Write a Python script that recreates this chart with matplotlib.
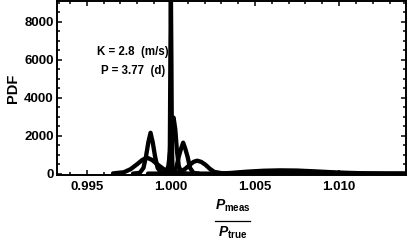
import numpy as np
import matplotlib
matplotlib.use('Agg')
import matplotlib.pyplot as plt
from matplotlib.ticker import MultipleLocator
from matplotlib.lines import Line2D

plt.rcParams['font.family'] = ['Liberation Sans', 'DejaVu Sans']
plt.rcParams['font.weight'] = 'bold'
plt.rcParams['mathtext.fontset'] = 'custom'
plt.rcParams['mathtext.rm'] = 'Liberation Sans:bold'
plt.rcParams['mathtext.it'] = 'Liberation Sans:italic:bold'
plt.rcParams['mathtext.bf'] = 'Liberation Sans:bold'

# PDF curves (x = P_meas / P_true, y = PDF)
spike_x = [0.99864, 0.99980, 0.99990, 0.99994, 0.99997, 1.00000, 1.00003, 1.00006, 1.00010, 1.00020, 1.01450]
spike_y = [0, 0, 100, 1500, 6000, 9600, 6000, 1500, 100, 0, 0]

narrow_r_x = [0.99940, 0.99970, 0.99985, 0.99996, 1.00006, 1.00016, 1.00026, 1.00036, 1.00047, 1.00062, 1.00090]
narrow_r_y = [0, 30, 400, 1200, 2350, 2950, 2350, 1200, 400, 30, 0]

narrow_l_x = [0.99775, 0.99815, 0.99837, 0.99852, 0.99866, 0.99879, 0.99892, 0.99906, 0.99921, 0.99943, 0.99975]
narrow_l_y = [0, 40, 300, 900, 1650, 2150, 1650, 900, 300, 40, 0]

broad_l_x = [0.99656, 0.99720, 0.99760, 0.99800, 0.99830, 0.99858, 0.99888, 0.99918, 0.99958, 1.00000, 1.00060]
broad_l_y = [10, 70, 230, 500, 720, 840, 720, 500, 230, 70, 10]

mid_x = [0.99985, 1.00012, 1.00032, 1.00047, 1.00060, 1.00073, 1.00086, 1.00099, 1.00114, 1.00134, 1.00165]
mid_y = [0, 40, 300, 900, 1300, 1630, 1300, 900, 300, 40, 0]

broad_r_x = [1.00005, 1.00055, 1.00085, 1.00115, 1.00135, 1.00156, 1.00180, 1.00205, 1.00232, 1.00258, 1.00310]
broad_r_y = [10, 90, 250, 480, 620, 680, 620, 470, 250, 90, 10]

wide_x = [1.0026, 1.0035, 1.0045, 1.0055, 1.0065, 1.0075, 1.0085, 1.0095, 1.0105, 1.0115, 1.0130, 1.0145]
wide_y = [0, 30, 100, 150, 170, 160, 120, 75, 40, 15, 3, 0]

curves = [(wide_x, wide_y), (broad_l_x, broad_l_y), (broad_r_x, broad_r_y),
          (narrow_l_x, narrow_l_y), (mid_x, mid_y), (narrow_r_x, narrow_r_y),
          (spike_x, spike_y)]

fig = plt.figure(figsize=(4.09, 2.41), dpi=100)
ax = fig.add_axes([0.1394, 0.2718, 0.8533, 0.722])

for cx, cy in curves:
    ax.plot(cx, cy, color='black', lw=3.1, solid_capstyle='round', solid_joinstyle='round')

ax.set_xlim(0.99323, 1.01398)
ax.set_ylim(-100, 9070)
ax.xaxis.set_major_locator(MultipleLocator(0.005))
ax.xaxis.set_minor_locator(MultipleLocator(0.001))
ax.yaxis.set_major_locator(MultipleLocator(2000))
ax.yaxis.set_minor_locator(MultipleLocator(500))
ax.xaxis.set_major_formatter(matplotlib.ticker.FormatStrFormatter('%.3f'))
ax.tick_params(which='both', direction='in', top=True, right=True, width=1.1, labelsize=9.5)
ax.tick_params(which='major', length=3.5)
ax.tick_params(which='minor', length=2)
ax.tick_params(axis='x', pad=4)
ax.tick_params(axis='y', pad=2.5)
for s in ax.spines.values():
    s.set_linewidth(1.4)

ax.set_ylabel('PDF', fontsize=10.5, fontweight='bold', labelpad=3)

ax.text(0.99775, 6400, 'K = 2.8  (m/s)', fontsize=8.3, ha='center', va='center')
ax.text(0.99775, 5400, 'P = 3.77  (d)', fontsize=8.3, ha='center', va='center')

# fraction label P_meas / P_true
fig.text(233 / 409, 31 / 241, r'$P_{\mathrm{meas}}$', fontsize=10, ha='center', va='baseline')
fig.text(233 / 409, 4 / 241, r'$P_{\mathrm{true}}$', fontsize=10, ha='center', va='baseline')
fig.add_artist(Line2D([215 / 409, 250 / 409], [20.3 / 241, 20.3 / 241], color='black', lw=0.9))

fig.savefig('out.png', dpi=100)
